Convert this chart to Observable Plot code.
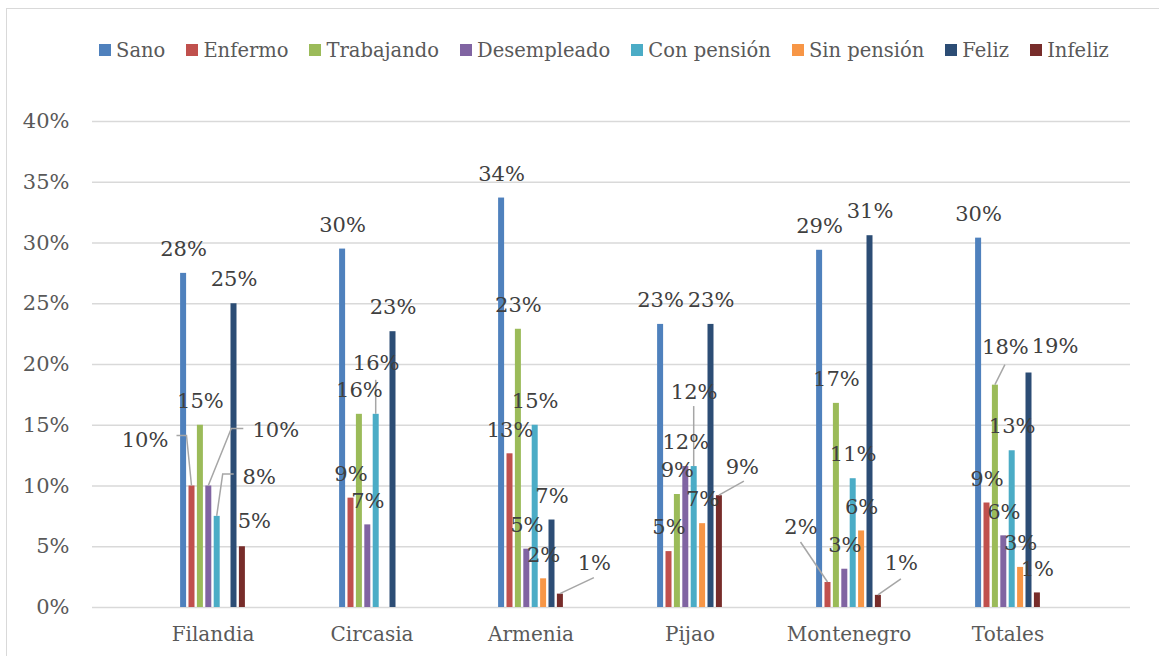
<!DOCTYPE html>
<html>
<head>
<meta charset="utf-8">
<script src="https://cdn.jsdelivr.net/npm/d3@7"></script>
<script src="https://cdn.jsdelivr.net/npm/@observablehq/plot@0.6"></script>
<style>
  html, body { margin: 0; padding: 0; background: #fff; overflow: hidden; }
  #frame {
    position: absolute; left: 6px; top: 8px; width: 1200px; height: 700px;
    border-top: 1px solid #d9d9d9; border-left: 1px solid #d9d9d9; box-sizing: content-box;
  }
  #legend {
    height: 82px; width: 1194px; display: flex; align-items: center; justify-content: center;
    font-family: "DejaVu Serif", serif; font-size: 19.5px; color: #595959;
  }
  .item { display: flex; align-items: center; margin: 0 10.5px; white-space: nowrap; }
  .sw { width: 12px; height: 12px; margin-right: 5px; display: inline-block; }
  #chart svg { display: block; }
</style>
</head>
<body>
<div id="frame">
  <div id="legend"></div>
  <div id="chart"></div>
</div>
<script>
// ---- data ----
const groups = ["Filandia", "Circasia", "Armenia", "Pijao", "Montenegro", "Totales"];
const series = ["Sano", "Enfermo", "Trabajando", "Desempleado", "Con pensión", "Sin pensión", "Feliz", "Infeliz"];
const colors = ["#4f81bd", "#c0504d", "#9bbb59", "#8064a2", "#4bacc6", "#f79646", "#2c4d75", "#772c2a"];

const sano        = [27.5, 29.5, 33.7, 23.3, 29.4, 30.4];
const enfermo     = [10.0,  9.0, 12.65, 4.6,  2.06,  8.6];
const trabajando  = [15.0, 15.9, 22.9,  9.3, 16.8, 18.3];
const desempleado = [10.0,  6.8,  4.8, 11.6,  3.15,  5.9];
const conPension  = [ 7.5, 15.9, 15.0, 11.6, 10.6, 12.9];
const sinPension  = [null, null,  2.36, 6.9,  6.3,  3.3];
const feliz       = [25.0, 22.7,  7.2, 23.3, 30.6, 19.3];
const infeliz     = [ 5.0, null,  1.1,  9.2,  1.0,  1.2];

const yTicks = [0, 5, 10, 15, 20, 25, 30, 35, 40];

// label layout (pixel offsets from the bar top, as placed in the original chart)
const labelDefault = [0, -24];
const labelMoves = {
  "Filandia|Enfermo":      { at: [-47, -46], leader: [[0, 0], [-5, -50], [-15, -50]] },
  "Filandia|Desempleado":  { at: [67, -56],  leader: [[0, 0], [23, -57], [35, -57]] },
  "Filandia|Con pensión":  { at: [42, -39],  leader: [[0, 0], [6, -42], [17, -42]] },
  "Filandia|Infeliz":      { at: [12, -25] },
  "Circasia|Con pensión":  { at: [0, -51],   leader: [[0, 0], [0, -34]] },
  "Armenia|Infeliz":       { at: [34, -31],  leader: [[0, 0], [34, -16]] },
  "Pijao|Con pensión":     { at: [0, -74],   leader: [[0, 0], [0, -60]] },
  "Pijao|Infeliz":         { at: [23, -28],  leader: [[0, 0], [25, -14]] },
  "Montenegro|Enfermo":    { at: [-27, -55], leader: [[0, 0], [-27, -40]] },
  "Montenegro|Infeliz":    { at: [23, -32],  leader: [[0, 0], [23, -16]] },
  "Totales|Trabajando":    { at: [10, -38],  leader: [[0, 0], [10, -20]] },
  "Totales|Feliz":         { at: [26, -27] }
};

const seriesValues = [sano, enfermo, trabajando, desempleado, conPension, sinPension, feliz, infeliz];
const rows = series.flatMap((s, i) =>
  groups.map((g, j) => ({ group: g, series: s, si: i, value: seriesValues[i][j] }))
).filter(d => d.value != null);

// ---- legend ----
const legend = document.getElementById("legend");
series.forEach((s, i) => {
  const it = document.createElement("div");
  it.className = "item";
  it.innerHTML = `<span class="sw" style="background:${colors[i]}"></span><span>${s}</span>`;
  legend.appendChild(it);
});

// ---- chart ----
const slot = 8.4, barW = 6.5;
const bandW = (1081 - 124) / groups.length;
const inset = (bandW - barW) / 2;
const offsetOf = i => (i - 3.5) * slot;
const key = d => d.group + "|" + d.series;
const labelText = d => Math.round(d.value) + "%";
const labelStyle = { fill: "#404040", fontSize: 21 };

const marks = [
  Plot.ruleY(yTicks, { stroke: "#d9d9d9", strokeWidth: 1.5 }),
  Plot.axisY({ ticks: yTicks, tickSize: 0, tickPadding: 23, tickFormat: d => d + "%", label: null, fontSize: 21 }),
  Plot.axisX({ tickSize: 0, tickPadding: 19, label: null, fontSize: 20 })
];
series.forEach((s, i) => {
  marks.push(Plot.barY(rows.filter(d => d.si === i), {
    x: "group", y: "value", fill: "series", dx: offsetOf(i), insetLeft: inset, insetRight: inset
  }));
});

// leader lines (drawn with the chart's own x and y scales)
marks.push((index, scales) => {
  const ns = "http://www.w3.org/2000/svg";
  const g = document.createElementNS(ns, "g");
  const x = scales.x, y = scales.y;
  const bw = typeof x.bandwidth === "function" ? x.bandwidth() : 0;
  rows.forEach(d => {
    const m = labelMoves[key(d)];
    if (!m || !m.leader) return;
    const bx = x(d.group) + bw / 2 + offsetOf(d.si), by = y(d.value);
    const p = document.createElementNS(ns, "polyline");
    p.setAttribute("points", m.leader.map(([a, b]) => `${bx + a},${by + b}`).join(" "));
    p.setAttribute("fill", "none");
    p.setAttribute("stroke", "#a6a6a6");
    p.setAttribute("stroke-width", "1.5");
    g.appendChild(p);
  });
  return g;
});

// default labels, one text mark per series
series.forEach((s, i) => {
  marks.push(Plot.text(rows.filter(d => d.si === i && !labelMoves[key(d)]), {
    x: "group", y: "value", text: labelText, dx: offsetOf(i) + labelDefault[0], dy: labelDefault[1], ...labelStyle
  }));
});
// moved labels
rows.filter(d => labelMoves[key(d)]).forEach(d => {
  const [ax, ay] = labelMoves[key(d)].at;
  marks.push(Plot.text([d], {
    x: "group", y: "value", text: labelText, dx: offsetOf(d.si) + ax, dy: ay, ...labelStyle
  }));
});

const chart = Plot.plot({
  width: 1152,
  height: 576,
  marginLeft: 85,
  marginRight: 29,
  marginTop: 30,
  marginBottom: 60,
  style: { fontFamily: "DejaVu Serif, serif", color: "#595959", background: "transparent" },
  x: { type: "band", domain: groups, range: [124, 1081], padding: 0 },
  y: { domain: [0, 40] },
  color: { domain: series, range: colors },
  marks
});
document.getElementById("chart").appendChild(chart);
</script>
</body>
</html>
